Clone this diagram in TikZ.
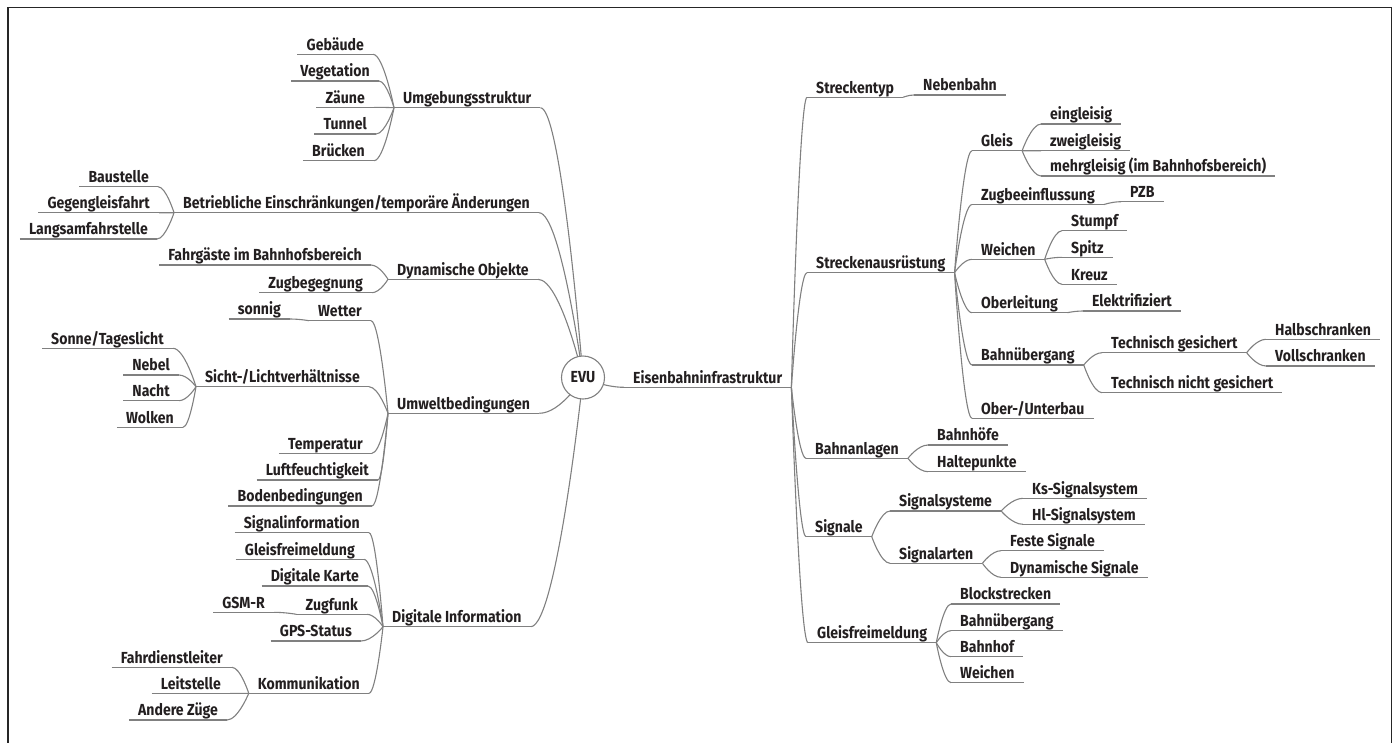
\documentclass[tikz,border=0pt]{standalone}
\usepackage{fontspec}
\setmainfont{Fira Sans}[FakeStretch=0.88]
\usepackage{tikz}
\usetikzlibrary{calc,backgrounds}
\definecolor{linegray}{RGB}{128,128,128}
\definecolor{textdark}{RGB}{35,31,32}

% curved connectors, right and left of the hub
\newcommand{\rlink}[2]{\draw[link] (#1.south east) .. controls (#1.south east) and ($(#2.south west)!0.5!(#1.south east |- #2.south west)$) .. (#2.south west);}
\newcommand{\llink}[2]{\draw[link] (#1.south west) .. controls (#1.south west) and ($(#2.south east)!0.5!(#1.south west |- #2.south east)$) .. (#2.south east);}
\newcommand{\hublink}[1]{\draw[link] (evu.center) .. controls (evu.center) and ($(#1)!0.5!(evu.center |- #1)$) .. (#1);}

\begin{document}
\begin{tikzpicture}[x=1pt,y=-1pt,
    topic/.style={inner xsep=9pt,inner ysep=0.8pt,text height=12pt,text depth=3.2pt,
      font=\fontsize{16}{18}\selectfont\bfseries,text=textdark},
    rtopic/.style={topic,anchor=south west},
    ltopic/.style={topic,anchor=south east},
    link/.style={draw=linegray,line width=1.1pt},
    hub/.style={circle,draw=linegray,line width=1.1pt,fill=white,minimum size=43pt,inner sep=0pt,
      font=\fontsize{16}{18}\selectfont\bfseries,text=textdark},
    frame/.style={draw=black!85,line width=1.5pt}]

    \useasboundingbox (0,0) rectangle (1396,742);
    \draw[frame] (8,760) |- (1391.7,7.3) -- (1391.7,760);

    \node[hub] (evu) at (583,377.5) {EVU};

    % Right side
    \node[rtopic] (eis) at (624,387.3) {Eisenbahninfrastruktur};
    \node[rtopic] (typ) at (807,97.3) {Streckentyp};
    \node[rtopic] (neben) at (914,95) {Nebenbahn};
    \node[rtopic] (aus) at (807,272.7) {Streckenausrüstung};
    \node[rtopic] (gleis) at (972,150.7) {Gleis};
    \node[rtopic] (ein) at (1041,124) {eingleisig};
    \node[rtopic] (zwei) at (1041,150.7) {zweigleisig};
    \node[rtopic] (mehr) at (1041,176) {mehrgleisig (im Bahnhofsbereich)};
    \node[rtopic] (zbf) at (972,204.5) {Zugbeeinflussung};
    \node[rtopic] (pzb) at (1121,201.7) {PZB};
    \node[rtopic] (wei) at (972,259.3) {Weichen};
    \node[rtopic] (stumpf) at (1062,230.7) {Stumpf};
    \node[rtopic] (spitz) at (1062,257.3) {Spitz};
    \node[rtopic] (kreuz) at (1062,284.3) {Kreuz};
    \node[rtopic] (ol) at (972,312.7) {Oberleitung};
    \node[rtopic] (elek) at (1083,311) {Elektrifiziert};
    \node[rtopic] (bue) at (972,365) {Bahnübergang};
    \node[rtopic] (tgs) at (1102,352.7) {Technisch gesichert};
    \node[rtopic] (halb) at (1266,339.3) {Halbschranken};
    \node[rtopic] (voll) at (1266,366) {Vollschranken};
    \node[rtopic] (tng) at (1102,392.7) {Technisch nicht gesichert};
    \node[rtopic] (bau) at (972,418.3) {Ober-/Unterbau};
    \node[rtopic] (anl) at (806,458.3) {Bahnanlagen};
    \node[rtopic] (bhf) at (928,445) {Bahnhöfe};
    \node[rtopic] (hp) at (928,471.7) {Haltepunkte};
    \node[rtopic] (sig) at (806,536.7) {Signale};
    \node[rtopic] (sys) at (890,511) {Signalsysteme};
    \node[rtopic] (ks) at (1023,498.3) {Ks-Signalsystem};
    \node[rtopic] (hl) at (1023,524.3) {Hl-Signalsystem};
    \node[rtopic] (arten) at (890,563.3) {Signalarten};
    \node[rtopic] (fest) at (1001,550.7) {Feste Signale};
    \node[rtopic] (dyns) at (1001,577.3) {Dynamische Signale};
    \node[rtopic] (gfm) at (808,642.7) {Gleisfreimeldung};
    \node[rtopic] (block) at (951,604) {Blockstrecken};
    \node[rtopic] (gfmbue) at (951,630.7) {Bahnübergang};
    \node[rtopic] (gfmbhf) at (951,656.7) {Bahnhof};
    \node[rtopic] (gfmwei) at (951,682.7) {Weichen};

    % Left side
    \node[rtopic] (umg) at (394,107.7) {Umgebungsstruktur};
    \node[ltopic] (geb) at (373,54.3) {Gebäude};
    \node[ltopic] (veg) at (379,81) {Vegetation};
    \node[ltopic] (zaun) at (374,107.3) {Zäune};
    \node[ltopic] (tun) at (376,134) {Tunnel};
    \node[ltopic] (bru) at (374,160.7) {Brücken};
    \node[rtopic] (betr) at (174,212.7) {Betriebliche Einschränkungen/temporäre Änderungen};
    \node[ltopic] (baus) at (158,186.7) {Baustelle};
    \node[ltopic] (gegen) at (159,212.7) {Gegengleisfahrt};
    \node[ltopic] (langs) at (157,239) {Langsamfahrstelle};
    \node[rtopic] (dyn) at (388,279.3) {Dynamische Objekte};
    \node[ltopic] (fahrg) at (371,265) {Fahrgäste im Bahnhofsbereich};
    \node[ltopic] (begeg) at (372,292.7) {Zugbegegnung};
    \node[rtopic] (umw) at (388,413.3) {Umweltbedingungen};
    \node[ltopic] (wetter) at (371,320.7) {Wetter};
    \node[ltopic] (sonnig) at (290,319) {sonnig};
    \node[ltopic] (sicht) at (369,386.7) {Sicht-/Lichtverhältnisse};
    \node[ltopic] (sonne) at (173,348.3) {Sonne/Tageslicht};
    \node[ltopic] (nebel) at (179,375) {Nebel};
    \node[ltopic] (nacht) at (179,400.7) {Nacht};
    \node[ltopic] (wolken) at (183,427.3) {Wolken};
    \node[ltopic] (temp) at (372,453.3) {Temperatur};
    \node[ltopic] (luft) at (378,480) {Luftfeuchtigkeit};
    \node[ltopic] (boden) at (372,506) {Bodenbedingungen};
    \node[rtopic] (dig) at (383,626.7) {Digitale Information};
    \node[ltopic] (siginf) at (369,532.7) {Signalinformation};
    \node[ltopic] (gfmd) at (364,559.3) {Gleisfreimeldung};
    \node[ltopic] (karte) at (368,586) {Digitale Karte};
    \node[ltopic] (funk) at (367,614.3) {Zugfunk};
    \node[ltopic] (gsm) at (274,612.3) {GSM-R};
    \node[ltopic] (gps) at (361,641) {GPS-Status};
    \node[ltopic] (komm) at (369,693.3) {Kommunikation};
    \node[ltopic] (fdl) at (232,667.3) {Fahrdienstleiter};
    \node[ltopic] (leit) at (230,693.3) {Leitstelle};
    \node[ltopic] (andere) at (227,720) {Andere Züge};

    \begin{scope}[on background layer]
    % underlines
    \foreach \n in {eis,typ,neben,aus,gleis,ein,zwei,mehr,zbf,pzb,wei,stumpf,spitz,kreuz,ol,elek,
        bue,tgs,halb,voll,tng,bau,anl,bhf,hp,sig,sys,ks,hl,arten,fest,dyns,gfm,block,gfmbue,gfmbhf,gfmwei,
        umg,geb,veg,zaun,tun,bru,betr,baus,gegen,langs,dyn,fahrg,begeg,umw,wetter,sonnig,sicht,sonne,
        nebel,nacht,wolken,temp,luft,boden,dig,siginf,gfmd,karte,funk,gsm,gps,komm,fdl,leit,andere}
      {\draw[link] (\n.south west) -- (\n.south east);}

    % hub
    \hublink{eis.south west}
    \hublink{umg.south east}
    \hublink{betr.south east}
    \hublink{dyn.south east}
    \hublink{umw.south east}
    \hublink{dig.south east}

    % right branches
    \foreach \c in {typ,aus,anl,sig,gfm} {\rlink{eis}{\c}}
    \rlink{typ}{neben}
    \foreach \c in {gleis,zbf,wei,ol,bue,bau} {\rlink{aus}{\c}}
    \foreach \c in {ein,zwei,mehr} {\rlink{gleis}{\c}}
    \rlink{zbf}{pzb}
    \foreach \c in {stumpf,spitz,kreuz} {\rlink{wei}{\c}}
    \rlink{ol}{elek}
    \foreach \c in {tgs,tng} {\rlink{bue}{\c}}
    \foreach \c in {halb,voll} {\rlink{tgs}{\c}}
    \foreach \c in {bhf,hp} {\rlink{anl}{\c}}
    \foreach \c in {sys,arten} {\rlink{sig}{\c}}
    \foreach \c in {ks,hl} {\rlink{sys}{\c}}
    \foreach \c in {fest,dyns} {\rlink{arten}{\c}}
    \foreach \c in {block,gfmbue,gfmbhf,gfmwei} {\rlink{gfm}{\c}}

    % left branches
    \foreach \c in {geb,veg,zaun,tun,bru} {\llink{umg}{\c}}
    \foreach \c in {baus,gegen,langs} {\llink{betr}{\c}}
    \foreach \c in {fahrg,begeg} {\llink{dyn}{\c}}
    \foreach \c in {wetter,sicht,temp,luft,boden} {\llink{umw}{\c}}
    \llink{wetter}{sonnig}
    \foreach \c in {sonne,nebel,nacht,wolken} {\llink{sicht}{\c}}
    \foreach \c in {siginf,gfmd,karte,funk,gps,komm} {\llink{dig}{\c}}
    \llink{funk}{gsm}
    \foreach \c in {fdl,leit,andere} {\llink{komm}{\c}}
    \end{scope}
\end{tikzpicture}
\end{document}
